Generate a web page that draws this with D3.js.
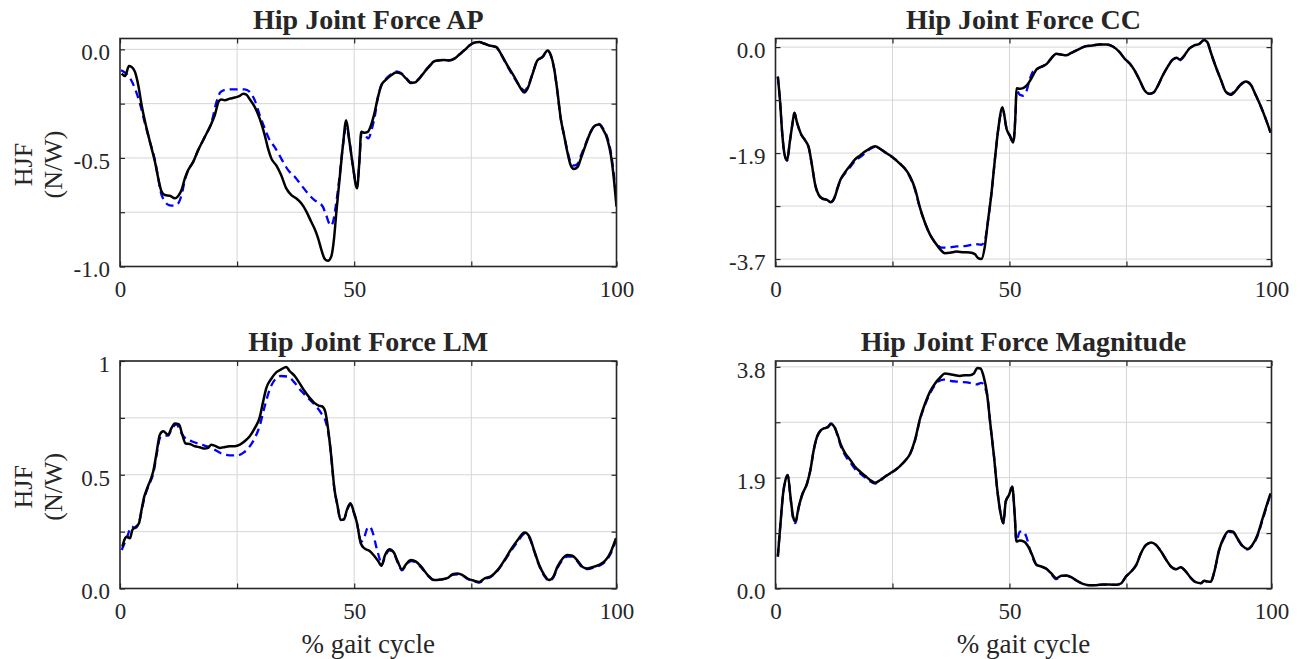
<!DOCTYPE html>
<html>
<head>
<meta charset="utf-8">
<script src="https://cdn.jsdelivr.net/npm/d3@7"></script>
<style>
  body { margin: 0; background: #fff; }
  svg text { font-family: "Liberation Serif", "Times New Roman", serif; fill: #262626; }
</style>
</head>
<body>
<svg id="chart" width="1306" height="659"></svg>
<script>
// values (x = frame position along the cycle axis)
var titles = ["Hip Joint Force AP", "Hip Joint Force CC", "Hip Joint Force LM", "Hip Joint Force Magnitude"];

var xTicks = [0, 25, 50, 75, 106];
var xTickLabels = ["0", "", "50", "", "100"];

var apTicks = [-1, -0.75, -0.5, -0.25, 0];
var apTickLabels = ["-1.0", "", "-0.5", "", "0.0"];
var ccTicks = [-3.7, -2.775, -1.85, -0.925, 0];
var ccTickLabels = ["-3.7", "", "-1.9", "", "0.0"];
var lmTicks = [0, 0.25, 0.5, 0.75, 1];
var lmTickLabels = ["0.0", "", "0.5", "", "1"];
var magTicks = [0, 0.95, 1.9, 2.85, 3.8];
var magTickLabels = ["0.0", "", "1.9", "", "3.8"];

var apBlack = [[0.36,-0.112],[1.07,-0.123],[1.92,-0.077],[2.49,-0.081],[3.2,-0.104],[3.9,-0.165],[4.62,-0.257],[5.68,-0.364],[6.75,-0.456],[7.46,-0.518],[8.17,-0.594],[8.88,-0.655],[9.59,-0.671],[10.65,-0.674],[11.72,-0.686],[12.43,-0.675],[13.14,-0.648],[13.85,-0.594],[14.56,-0.556],[15.63,-0.518],[16.69,-0.464],[18.11,-0.403],[19.53,-0.341],[20.24,-0.303],[21.09,-0.239],[21.66,-0.231],[22.37,-0.234],[23.44,-0.227],[24.5,-0.222],[25.57,-0.214],[26.28,-0.204],[26.99,-0.208],[27.7,-0.23],[28.76,-0.265],[29.83,-0.319],[30.9,-0.395],[31.6,-0.456],[32.3,-0.502],[33.4,-0.536],[34.4,-0.579],[35.5,-0.64],[36.6,-0.671],[37.6,-0.686],[38.7,-0.709],[39.8,-0.747],[40.8,-0.793],[41.5,-0.824],[42.3,-0.87],[43.0,-0.923],[43.7,-0.965],[44.4,-0.974],[45.1,-0.954],[45.7,-0.87],[46.2,-0.747],[46.9,-0.594],[47.6,-0.441],[48.3,-0.326],[49.0,-0.426],[49.7,-0.533],[50.6,-0.64],[51.1,-0.518],[51.5,-0.38],[52.2,-0.384],[52.9,-0.38],[53.6,-0.349],[54.3,-0.296],[55.0,-0.227],[55.8,-0.165],[56.8,-0.139],[57.9,-0.119],[58.9,-0.107],[60.0,-0.112],[61.1,-0.135],[62.1,-0.155],[62.9,-0.153],[63.9,-0.135],[65.0,-0.104],[66.1,-0.077],[67.1,-0.055],[68.2,-0.051],[69.2,-0.049],[70.3,-0.051],[71.4,-0.043],[72.4,-0.025],[73.5,-0.005],[74.6,0.018],[75.6,0.031],[76.7,0.034],[77.8,0.026],[78.8,0.018],[80.3,0.011],[81.3,-0.02],[82.7,-0.074],[84.2,-0.127],[85.6,-0.181],[86.3,-0.199],[87.0,-0.181],[88.1,-0.112],[89.1,-0.051],[90.2,-0.035],[91.3,-0.005],[92.0,-0.028],[92.7,-0.089],[93.4,-0.196],[94.1,-0.319],[94.8,-0.395],[95.5,-0.472],[96.2,-0.533],[96.9,-0.551],[97.7,-0.541],[98.4,-0.502],[99.4,-0.441],[100.5,-0.38],[101.6,-0.349],[102.3,-0.346],[103.0,-0.364],[104.1,-0.418],[104.8,-0.487],[105.5,-0.609],[106.0,-0.724]];
var apBlue = [[0.21,-0.096],[1.07,-0.107],[2.13,-0.132],[3.2,-0.181],[4.26,-0.25],[5.33,-0.341],[6.39,-0.426],[7.46,-0.51],[8.17,-0.594],[8.66,-0.655],[9.38,-0.694],[10.44,-0.717],[11.5,-0.72],[12.43,-0.709],[13.14,-0.671],[13.85,-0.602],[14.56,-0.556],[15.63,-0.518],[16.69,-0.464],[18.11,-0.403],[19.53,-0.337],[20.6,-0.242],[21.5,-0.196],[22.7,-0.185],[24.5,-0.184],[26.6,-0.184],[27.7,-0.196],[28.76,-0.234],[29.83,-0.303],[30.9,-0.364],[31.96,-0.418],[33.0,-0.449],[34.4,-0.502],[35.9,-0.556],[37.3,-0.587],[38.7,-0.625],[40.1,-0.663],[41.5,-0.694],[42.6,-0.709],[43.3,-0.724],[44.0,-0.763],[45.0,-0.812],[45.5,-0.793],[46.2,-0.701],[46.9,-0.579],[47.6,-0.441],[48.3,-0.357],[49.0,-0.426],[49.7,-0.533],[50.6,-0.632],[51.1,-0.518],[51.6,-0.38],[52.3,-0.395],[53.0,-0.41],[53.8,-0.364],[54.5,-0.296],[55.0,-0.227],[55.8,-0.165],[56.8,-0.135],[57.9,-0.114],[58.9,-0.102],[60.0,-0.109],[61.1,-0.132],[62.1,-0.152],[62.9,-0.15],[63.9,-0.133],[65.0,-0.102],[66.1,-0.075],[67.1,-0.055],[68.2,-0.05],[69.2,-0.048],[70.3,-0.05],[71.4,-0.042],[72.4,-0.024],[73.5,-0.004],[74.6,0.018],[75.6,0.03],[76.7,0.033],[77.8,0.026],[78.8,0.018],[80.3,0.01],[81.3,-0.022],[82.7,-0.078],[84.2,-0.132],[85.6,-0.176],[86.3,-0.19],[87.0,-0.175],[88.1,-0.11],[89.1,-0.052],[90.2,-0.036],[91.3,-0.007],[92.0,-0.03],[92.7,-0.092],[93.4,-0.2],[94.1,-0.32],[94.8,-0.395],[95.5,-0.465],[96.2,-0.52],[96.9,-0.535],[97.7,-0.527],[98.4,-0.49],[99.4,-0.435],[100.5,-0.378],[101.6,-0.347],[102.3,-0.343],[103.0,-0.36],[104.1,-0.41],[104.8,-0.475],[105.5,-0.59],[106.0,-0.71]];

var ccBlack = [[0.5,-0.516],[1.0,-0.975],[1.42,-1.49],[1.92,-1.865],[2.49,-1.98],[3.05,-1.66],[3.55,-1.38],[4.05,-1.147],[4.6,-1.32],[5.47,-1.52],[6.39,-1.635],[7.1,-1.75],[7.8,-2.065],[8.5,-2.41],[9.23,-2.58],[9.94,-2.64],[11.0,-2.668],[11.86,-2.708],[12.57,-2.64],[13.14,-2.496],[13.85,-2.32],[14.9,-2.18],[16.0,-2.065],[17.0,-1.96],[18.1,-1.89],[19.2,-1.82],[20.2,-1.767],[21.3,-1.733],[22.4,-1.778],[23.4,-1.836],[24.5,-1.893],[25.6,-1.962],[26.6,-2.037],[27.7,-2.123],[28.8,-2.266],[29.8,-2.467],[30.9,-2.81],[31.96,-3.07],[33.0,-3.27],[34.1,-3.41],[35.2,-3.53],[36.2,-3.597],[37.3,-3.59],[38.7,-3.57],[40.1,-3.58],[41.5,-3.586],[42.6,-3.614],[43.3,-3.683],[44.0,-3.7],[44.7,-3.5],[45.4,-3.04],[46.2,-2.52],[46.9,-1.95],[47.6,-1.434],[48.5,-1.05],[49.4,-1.434],[50.1,-1.55],[50.8,-1.664],[51.3,-1.147],[51.5,-0.717],[52.2,-0.729],[52.9,-0.717],[53.8,-0.66],[54.7,-0.545],[55.8,-0.39],[56.8,-0.344],[57.9,-0.298],[58.9,-0.2],[60.0,-0.115],[61.1,-0.132],[62.1,-0.143],[63.2,-0.103],[64.3,-0.057],[65.3,-0.017],[66.4,0.017],[67.8,0.029],[69.2,0.046],[70.7,0.046],[72.1,0.011],[73.5,-0.086],[74.6,-0.2],[75.7,-0.287],[76.7,-0.402],[77.8,-0.574],[78.8,-0.746],[79.9,-0.815],[80.8,-0.792],[81.7,-0.677],[82.7,-0.505],[83.8,-0.344],[84.9,-0.218],[85.7,-0.184],[86.4,-0.218],[87.4,-0.143],[88.4,-0.029],[89.5,0.029],[90.6,0.057],[91.6,0.126],[92.3,0.086],[93.0,-0.086],[94.1,-0.344],[95.2,-0.574],[96.2,-0.775],[97.3,-0.832],[98.4,-0.757],[99.4,-0.66],[100.5,-0.602],[101.6,-0.66],[102.6,-0.832],[103.7,-1.033],[104.8,-1.262],[105.8,-1.492]];
var ccBlue = [[0.5,-0.516],[1.0,-0.975],[1.42,-1.49],[1.92,-1.865],[2.49,-1.98],[3.05,-1.66],[3.55,-1.38],[4.05,-1.147],[4.6,-1.32],[5.47,-1.52],[6.39,-1.635],[7.1,-1.75],[7.8,-2.065],[8.5,-2.41],[9.23,-2.58],[9.94,-2.64],[11.0,-2.668],[11.86,-2.7],[12.57,-2.63],[13.14,-2.48],[13.85,-2.33],[14.9,-2.2],[16.0,-2.09],[17.0,-1.99],[18.1,-1.92],[19.2,-1.85],[20.2,-1.78],[21.3,-1.74],[22.4,-1.78],[23.4,-1.836],[24.5,-1.893],[25.6,-1.962],[26.6,-2.037],[27.7,-2.13],[28.8,-2.28],[29.8,-2.49],[30.9,-2.82],[31.96,-3.07],[33.0,-3.27],[34.4,-3.44],[35.5,-3.5],[36.9,-3.5],[38.7,-3.48],[40.8,-3.47],[42.6,-3.44],[44.0,-3.45],[44.7,-3.385],[45.4,-3.04],[46.2,-2.52],[46.9,-1.95],[47.6,-1.44],[48.5,-1.08],[49.4,-1.43],[50.1,-1.55],[50.8,-1.66],[51.3,-1.147],[51.5,-0.746],[52.2,-0.832],[52.9,-0.849],[53.6,-0.775],[54.3,-0.574],[55.0,-0.43],[55.8,-0.39],[56.8,-0.344],[57.9,-0.298],[58.9,-0.2],[60.0,-0.115],[61.1,-0.132],[62.1,-0.143],[63.2,-0.103],[64.3,-0.057],[65.3,-0.017],[66.4,0.017],[67.8,0.029],[69.2,0.046],[70.7,0.046],[72.1,0.011],[73.5,-0.086],[74.6,-0.2],[75.7,-0.287],[76.7,-0.402],[77.8,-0.574],[78.8,-0.746],[79.9,-0.815],[80.8,-0.792],[81.7,-0.677],[82.7,-0.505],[83.8,-0.344],[84.9,-0.218],[85.7,-0.2],[86.4,-0.23],[87.4,-0.15],[88.4,-0.029],[89.5,0.029],[90.6,0.057],[91.6,0.126],[92.3,0.086],[93.0,-0.086],[94.1,-0.344],[95.2,-0.574],[96.2,-0.775],[97.3,-0.815],[98.4,-0.74],[99.4,-0.65],[100.5,-0.6],[101.6,-0.66],[102.6,-0.832],[103.7,-1.033],[104.8,-1.262],[105.8,-1.492]];

var lmBlack = [[0.5,0.184],[0.92,0.213],[1.42,0.228],[2.13,0.221],[2.63,0.257],[3.2,0.268],[4.05,0.287],[4.6,0.346],[5.18,0.404],[5.68,0.434],[6.39,0.471],[7.1,0.515],[7.8,0.596],[8.5,0.676],[9.23,0.691],[10.3,0.676],[11.0,0.706],[11.7,0.725],[12.6,0.721],[13.3,0.676],[14.0,0.637],[14.9,0.635],[16.0,0.625],[17.0,0.621],[18.1,0.615],[18.8,0.618],[19.5,0.632],[20.2,0.628],[21.3,0.618],[22.4,0.622],[23.4,0.625],[24.5,0.625],[25.6,0.632],[26.6,0.647],[27.7,0.669],[28.8,0.706],[29.8,0.75],[30.5,0.816],[31.25,0.882],[32.3,0.922],[33.4,0.951],[34.4,0.963],[35.5,0.974],[36.2,0.956],[37.3,0.934],[38.3,0.904],[39.4,0.868],[40.5,0.838],[41.5,0.816],[42.4,0.804],[43.1,0.801],[43.8,0.779],[44.4,0.706],[45.1,0.581],[45.8,0.434],[46.4,0.368],[47.1,0.301],[47.8,0.304],[48.5,0.349],[49.2,0.375],[49.9,0.338],[50.6,0.287],[51.4,0.199],[52.2,0.176],[53.3,0.165],[54.3,0.143],[55.2,0.118],[55.8,0.1],[56.6,0.147],[57.5,0.172],[58.5,0.157],[59.3,0.118],[60.2,0.084],[61.1,0.107],[62.1,0.125],[63.2,0.118],[64.3,0.096],[65.7,0.059],[67.1,0.037],[68.5,0.04],[70.0,0.047],[71.0,0.063],[72.1,0.066],[73.1,0.059],[74.2,0.044],[75.6,0.034],[76.7,0.029],[77.8,0.044],[79.2,0.054],[80.6,0.081],[82.0,0.122],[83.4,0.169],[84.9,0.213],[86.4,0.246],[87.4,0.228],[88.4,0.169],[89.5,0.103],[90.6,0.059],[91.6,0.037],[92.5,0.051],[93.4,0.096],[94.5,0.132],[95.5,0.147],[96.6,0.144],[97.7,0.122],[98.7,0.096],[99.8,0.088],[101.2,0.096],[102.6,0.107],[103.7,0.125],[104.8,0.162],[105.5,0.199],[105.9,0.221]];
var lmBlue = [[0.36,0.169],[1.42,0.221],[2.5,0.272],[3.2,0.265],[4.05,0.29],[4.6,0.34],[5.18,0.395],[5.68,0.428],[6.39,0.465],[7.1,0.505],[7.8,0.585],[8.5,0.66],[8.9,0.669],[9.6,0.672],[10.3,0.672],[11.0,0.7],[12.1,0.721],[12.9,0.69],[13.85,0.662],[15.3,0.647],[17.4,0.632],[19.5,0.618],[21.7,0.593],[23.4,0.585],[24.9,0.585],[26.3,0.596],[27.7,0.625],[28.8,0.662],[29.8,0.713],[30.9,0.801],[31.96,0.875],[33.0,0.916],[34.4,0.934],[35.9,0.931],[37.3,0.904],[38.7,0.868],[40.1,0.838],[41.5,0.809],[42.9,0.772],[44.0,0.728],[44.7,0.654],[45.8,0.434],[46.4,0.368],[47.1,0.301],[47.8,0.304],[48.5,0.345],[49.2,0.37],[49.9,0.335],[50.6,0.285],[51.5,0.206],[52.2,0.228],[52.8,0.265],[53.3,0.272],[54.0,0.243],[54.7,0.184],[55.4,0.132],[55.8,0.1],[56.6,0.14],[57.5,0.168],[58.5,0.152],[59.3,0.113],[60.2,0.08],[61.1,0.103],[62.1,0.12],[63.2,0.115],[64.3,0.092],[65.7,0.057],[67.1,0.036],[68.5,0.039],[70.0,0.045],[71.0,0.06],[72.1,0.062],[73.1,0.057],[74.2,0.042],[75.6,0.031],[76.7,0.026],[77.8,0.04],[79.2,0.052],[80.6,0.078],[82.0,0.118],[83.4,0.163],[84.9,0.206],[86.4,0.24],[87.4,0.222],[88.4,0.165],[89.5,0.1],[90.6,0.055],[91.6,0.034],[92.5,0.048],[93.4,0.09],[94.5,0.125],[95.5,0.14],[96.6,0.14],[97.7,0.118],[98.7,0.092],[99.8,0.085],[101.2,0.092],[102.6,0.103],[103.7,0.12],[104.8,0.155],[105.5,0.19],[105.9,0.212]];

var magBlack = [[0.5,0.548],[1.07,1.118],[1.63,1.631],[2.13,1.86],[2.63,1.945],[3.2,1.574],[3.76,1.232],[4.26,1.147],[4.97,1.403],[5.68,1.603],[6.75,1.803],[7.46,2.031],[8.17,2.373],[8.88,2.601],[9.6,2.704],[10.3,2.744],[11.15,2.761],[11.86,2.818],[12.57,2.772],[13.3,2.63],[14.0,2.459],[14.9,2.316],[16.0,2.202],[17.0,2.088],[18.1,2.002],[19.2,1.928],[20.2,1.86],[21.3,1.814],[22.4,1.86],[23.4,1.917],[24.5,1.974],[25.6,2.031],[26.6,2.099],[27.7,2.19],[28.8,2.316],[29.8,2.544],[30.9,2.915],[31.96,3.172],[33.0,3.371],[34.1,3.514],[35.2,3.617],[36.2,3.685],[37.3,3.674],[38.4,3.657],[39.4,3.645],[40.5,3.657],[41.5,3.657],[42.4,3.685],[43.1,3.782],[43.8,3.771],[44.5,3.628],[45.2,3.343],[45.9,2.829],[46.7,2.259],[47.4,1.689],[48.1,1.289],[48.7,1.118],[49.2,1.489],[49.9,1.603],[50.6,1.746],[51.1,1.289],[51.5,0.804],[52.2,0.821],[53.1,0.804],[53.8,0.747],[54.7,0.605],[55.8,0.405],[56.8,0.377],[57.9,0.337],[58.9,0.262],[60.0,0.177],[61.1,0.217],[62.1,0.222],[63.2,0.194],[64.3,0.137],[65.7,0.08],[67.1,0.057],[68.5,0.057],[70.0,0.068],[71.4,0.068],[72.8,0.063],[73.9,0.091],[74.9,0.205],[76.0,0.291],[77.1,0.405],[78.1,0.605],[79.2,0.747],[80.3,0.787],[81.3,0.747],[82.4,0.633],[83.5,0.491],[84.5,0.377],[85.6,0.331],[86.6,0.365],[87.7,0.291],[88.8,0.177],[89.8,0.108],[90.9,0.091],[91.6,0.131],[92.3,0.12],[93.0,0.114],[93.7,0.262],[94.8,0.662],[95.9,0.89],[96.9,0.987],[97.8,0.975],[98.7,0.861],[99.8,0.73],[100.9,0.679],[101.9,0.747],[103.0,0.918],[104.0,1.175],[105.1,1.46],[105.8,1.631]];
var magBlue = [[0.5,0.548],[1.07,1.118],[1.63,1.631],[2.13,1.86],[2.63,1.94],[3.2,1.56],[3.76,1.2],[4.26,1.12],[4.97,1.39],[5.68,1.6],[6.75,1.803],[7.46,2.031],[8.17,2.373],[8.88,2.601],[9.6,2.704],[10.3,2.744],[11.15,2.77],[11.86,2.83],[12.57,2.78],[13.3,2.61],[14.0,2.43],[14.9,2.28],[16.0,2.16],[17.0,2.05],[18.1,1.97],[19.2,1.9],[20.2,1.84],[21.3,1.8],[22.4,1.85],[23.4,1.917],[24.5,1.974],[25.6,2.031],[26.6,2.099],[27.7,2.19],[28.8,2.316],[29.8,2.53],[30.9,2.9],[31.96,3.15],[33.0,3.34],[34.1,3.49],[35.9,3.582],[37.3,3.56],[39.4,3.542],[41.5,3.525],[43.0,3.5],[44.0,3.525],[44.7,3.457],[45.4,3.229],[45.9,2.829],[46.7,2.259],[47.4,1.689],[48.1,1.289],[48.7,1.118],[49.2,1.489],[49.9,1.603],[50.6,1.746],[51.1,1.289],[51.5,0.804],[52.2,0.975],[52.9,0.975],[53.6,0.89],[54.3,0.69],[55.0,0.519],[55.8,0.405],[56.8,0.377],[57.9,0.337],[58.9,0.25],[60.0,0.16],[61.1,0.21],[62.1,0.222],[63.2,0.194],[64.3,0.137],[65.7,0.08],[67.1,0.057],[68.5,0.057],[70.0,0.068],[71.4,0.068],[72.8,0.063],[73.9,0.091],[74.9,0.205],[76.0,0.291],[77.1,0.405],[78.1,0.605],[79.2,0.747],[80.3,0.787],[81.3,0.747],[82.4,0.633],[83.5,0.491],[84.5,0.377],[85.6,0.331],[86.6,0.365],[87.7,0.291],[88.8,0.177],[89.8,0.108],[90.9,0.091],[91.6,0.131],[92.3,0.12],[93.0,0.114],[93.7,0.262],[94.8,0.65],[95.9,0.87],[96.9,0.97],[97.8,0.96],[98.7,0.85],[99.8,0.72],[100.9,0.67],[101.9,0.74],[103.0,0.9],[104.0,1.15],[105.1,1.44],[105.8,1.62]];

(function () {

    var svg = d3.select('#chart'),
        axisColor = '#262626',
        gridColor = '#d6d6d6';

    // box edges in pixels, one per panel
    var panels = [
        { title: titles[0], black: apBlack, blue: apBlue, ylim: [-1, 0.05], ticks: apTicks, labels: apTickLabels,
          left: 120, right: 616.5, top: 38.5, bottom: 266.5, ylabel: true, xlabel: false },
        { title: titles[1], black: ccBlack, blue: ccBlue, ylim: [-3.83, 0.15], ticks: ccTicks, labels: ccTickLabels,
          left: 775.5, right: 1271.5, top: 38.5, bottom: 266.5, ylabel: false, xlabel: false },
        { title: titles[2], black: lmBlack, blue: lmBlue, ylim: [0, 1], ticks: lmTicks, labels: lmTickLabels,
          left: 120, right: 616.5, top: 361, bottom: 588.5, ylabel: true, xlabel: true },
        { title: titles[3], black: magBlack, blue: magBlue, ylim: [0, 3.9], ticks: magTicks, labels: magTickLabels,
          left: 775.5, right: 1271.5, top: 361, bottom: 588.5, ylabel: false, xlabel: true }
    ];

    panels.forEach(drawPanel);

    function drawPanel (p, i) {
        var x = d3.scaleLinear().domain([0, 106]).range([p.left, p.right]),
            y = d3.scaleLinear().domain(p.ylim).range([p.bottom, p.top]),
            g = svg.append('g');

        // grid
        g.append('g').selectAll('line.gx')
            .data(xTicks.slice(1, 4))
            .enter().append('line')
                .attr('x1', x).attr('x2', x)
                .attr('y1', p.top).attr('y2', p.bottom)
                .attr('stroke', gridColor).attr('stroke-width', 1);
        g.append('g').selectAll('line.gy')
            .data(p.ticks)
            .enter().append('line')
                .attr('x1', p.left).attr('x2', p.right)
                .attr('y1', y).attr('y2', y)
                .attr('stroke', gridColor).attr('stroke-width', 1);

        // clip curves to the box
        svg.append('clipPath').attr('id', 'clip' + i)
            .append('rect')
                .attr('x', p.left).attr('y', p.top)
                .attr('width', p.right - p.left).attr('height', p.bottom - p.top);

        var line = d3.line()
            .x(function (d) { return x(d[0]); })
            .y(function (d) { return y(d[1]); })
            .curve(d3.curveMonotoneX);

        g.append('path')
            .attr('clip-path', 'url(#clip' + i + ')')
            .attr('d', line(p.blue))
            .attr('fill', 'none')
            .attr('stroke', '#0000ff')
            .attr('stroke-width', 2.3)
            .attr('stroke-dasharray', '8,5');

        g.append('path')
            .attr('clip-path', 'url(#clip' + i + ')')
            .attr('d', line(p.black))
            .attr('fill', 'none')
            .attr('stroke', '#000')
            .attr('stroke-width', 2.5)
            .attr('stroke-linejoin', 'round');

        // axes, ticks pointing inward on all sides
        var xAxis = d3.axisBottom(x).tickValues(xTicks).tickSize(-5).tickPadding(14)
                .tickFormat(function (d, k) { return xTickLabels[k]; }),
            yAxis = d3.axisLeft(y).tickValues(p.ticks).tickSize(-5).tickPadding(10)
                .tickFormat(function (d, k) { return p.labels[k]; });

        var gx = g.append('g')
            .attr('transform', 'translate(0,' + p.bottom + ')')
            .call(xAxis);
        var gy = g.append('g')
            .attr('transform', 'translate(' + p.left + ',0)')
            .call(yAxis);
        var gt = g.append('g')
            .attr('transform', 'translate(0,' + p.top + ')')
            .call(d3.axisTop(x).tickValues(xTicks).tickSize(-5).tickFormat(''));
        var gr = g.append('g')
            .attr('transform', 'translate(' + p.right + ',0)')
            .call(d3.axisRight(y).tickValues(p.ticks).tickSize(-5).tickFormat(''));

        [gx, gy, gt, gr].forEach(function (a) {
            a.select('.domain').remove();
            a.selectAll('line').attr('stroke', axisColor).attr('stroke-width', 1.2);
            a.selectAll('text')
                .attr('fill', axisColor)
                .style('font-size', '23px')
                .style('font-family', '"Liberation Serif", "Times New Roman", serif');
        });
        gy.selectAll('text').attr('dy', '0.45em');

        g.append('rect')
            .attr('x', p.left).attr('y', p.top)
            .attr('width', p.right - p.left).attr('height', p.bottom - p.top)
            .attr('fill', 'none')
            .attr('stroke', axisColor)
            .attr('stroke-width', 1.6);

        // title
        g.append('text')
            .attr('x', (p.left + p.right) / 2)
            .attr('y', p.top - 10)
            .attr('text-anchor', 'middle')
            .style('font-size', '28px')
            .style('font-weight', 'bold')
            .attr('fill', '#000')
            .text(p.title);

        if (p.xlabel) {
            g.append('text')
                .attr('x', (p.left + p.right) / 2)
                .attr('y', 653)
                .attr('text-anchor', 'middle')
                .style('font-size', '27px')
                .text('% gait cycle');
        }

        if (p.ylabel) {
            var yl = g.append('text')
                .attr('transform', 'translate(32,' + ((p.top + p.bottom) / 2 + 12) + ') rotate(-90)')
                .attr('text-anchor', 'middle')
                .style('font-size', '26px');
            yl.append('tspan').attr('x', 0).attr('dy', 0).text('HJF');
            yl.append('tspan').attr('x', 0).attr('dy', 30).text('(N/W)');
        }
    }

}());
</script>
</body>
</html>
